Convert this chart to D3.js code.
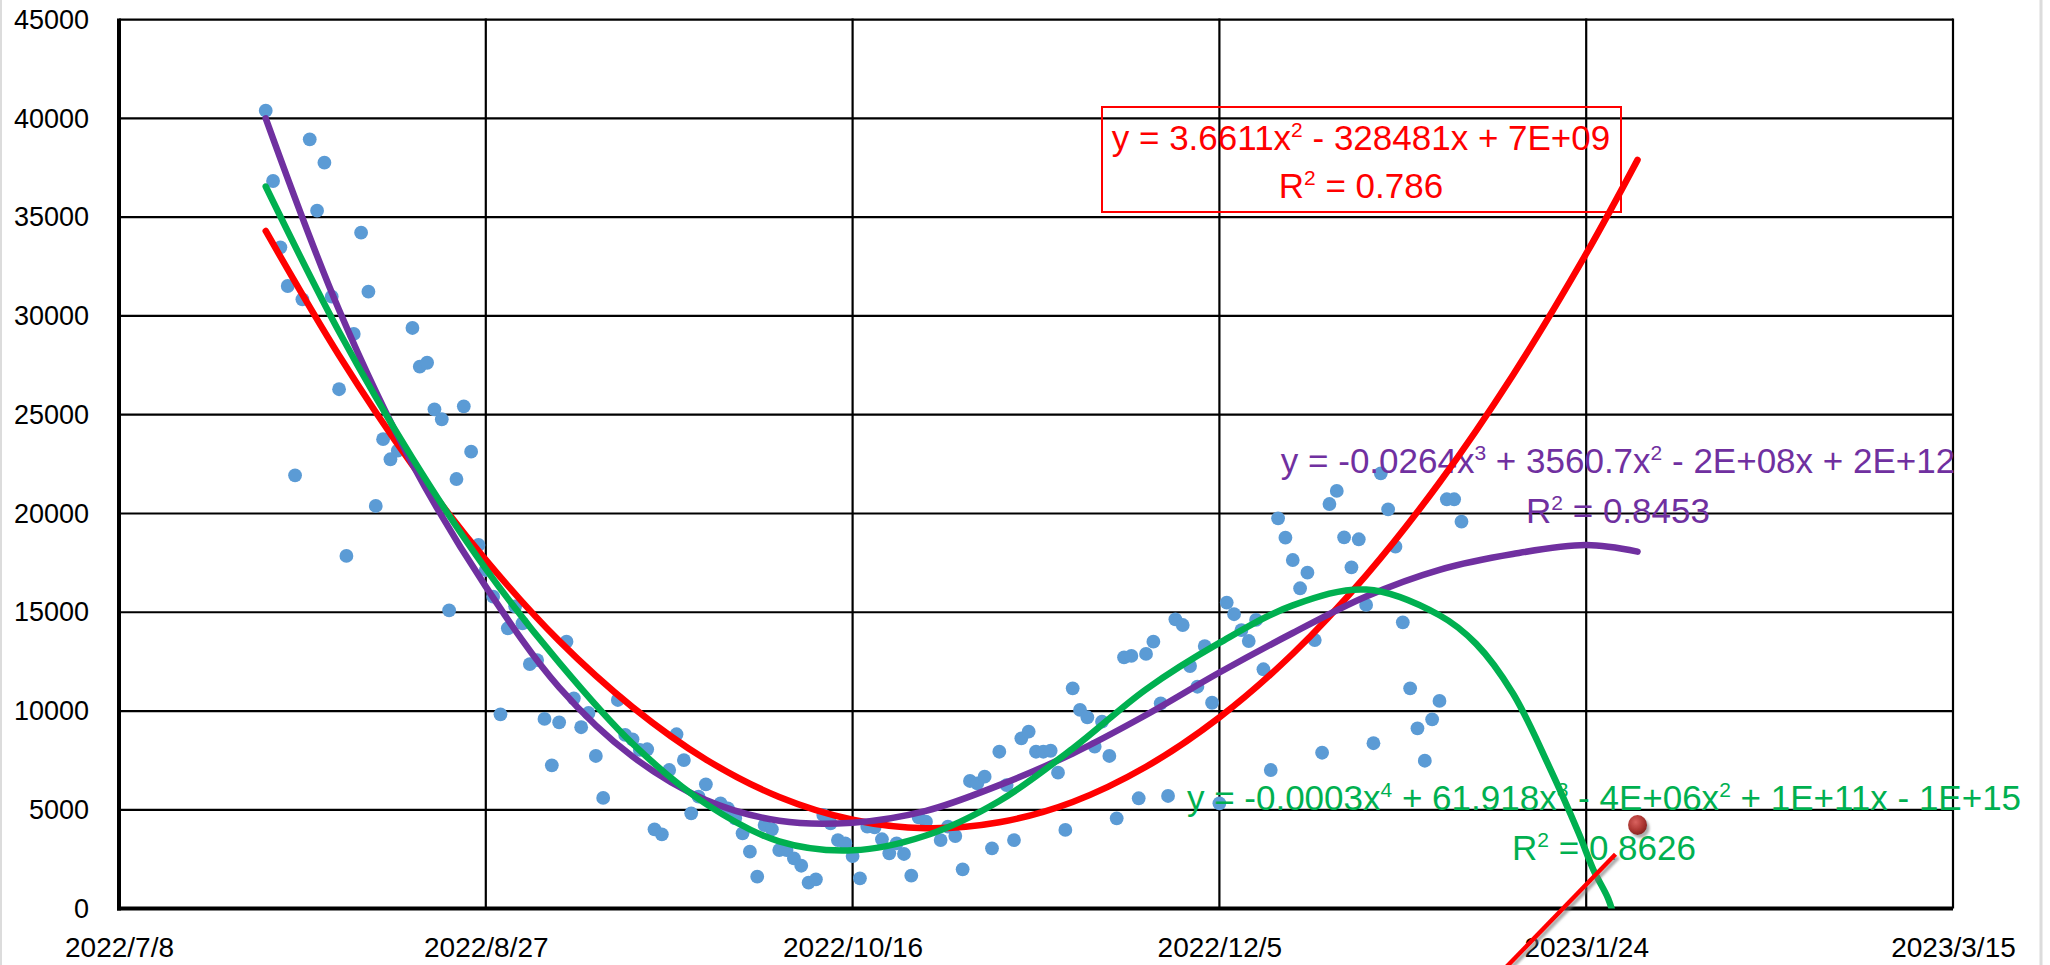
<!DOCTYPE html>
<html>
<head>
<meta charset="utf-8">
<script src="https://cdnjs.cloudflare.com/ajax/libs/d3/7.8.5/d3.min.js"></script>
<style>
body { margin: 0; background: #fff; }
svg { display: block; font-family: "Liberation Sans", Arial, sans-serif; }
text { white-space: pre; }
</style>
</head>
<body>
<svg id="chart" width="2050" height="965"></svg>
<script>
// axis ticks
const yTicks = [0, 5000, 10000, 15000, 20000, 25000, 30000, 35000, 40000, 45000];
const xTickLabels = ["2022/7/8", "2022/8/27", "2022/10/16", "2022/12/5", "2023/1/24", "2023/3/15"];

const obsDates = [
  "2022/7/28","2022/7/29","2022/7/30","2022/7/31","2022/8/1","2022/8/2","2022/8/3","2022/8/4","2022/8/5","2022/8/6",
  "2022/8/7","2022/8/8","2022/8/9","2022/8/10","2022/8/11","2022/8/12","2022/8/13","2022/8/14","2022/8/15","2022/8/17",
  "2022/8/18","2022/8/19","2022/8/20","2022/8/21","2022/8/22","2022/8/23","2022/8/24","2022/8/25","2022/8/26","2022/8/27",
  "2022/8/28","2022/8/29","2022/8/30","2022/8/31",
  "2022/9/1","2022/9/2","2022/9/3","2022/9/4","2022/9/5","2022/9/6","2022/9/7","2022/9/8","2022/9/9","2022/9/10",
  "2022/9/11","2022/9/12","2022/9/14","2022/9/15","2022/9/16","2022/9/17","2022/9/18","2022/9/19","2022/9/20","2022/9/21",
  "2022/9/22","2022/9/23","2022/9/24","2022/9/25","2022/9/26","2022/9/28","2022/9/29","2022/9/30",
  "2022/10/1","2022/10/2","2022/10/3","2022/10/4","2022/10/5","2022/10/6","2022/10/7","2022/10/8","2022/10/9","2022/10/10",
  "2022/10/11","2022/10/12","2022/10/13","2022/10/14","2022/10/15","2022/10/16","2022/10/17","2022/10/18","2022/10/19","2022/10/20",
  "2022/10/21","2022/10/22","2022/10/23","2022/10/24","2022/10/25","2022/10/26","2022/10/28","2022/10/29","2022/10/30","2022/10/31",
  "2022/11/1","2022/11/2","2022/11/3","2022/11/4","2022/11/5","2022/11/6","2022/11/7","2022/11/8","2022/11/9","2022/11/10",
  "2022/11/11","2022/11/12","2022/11/13","2022/11/14","2022/11/15","2022/11/16","2022/11/17","2022/11/18","2022/11/19","2022/11/20",
  "2022/11/21","2022/11/22","2022/11/23","2022/11/24","2022/11/25","2022/11/26","2022/11/27","2022/11/28","2022/11/29","2022/11/30",
  "2022/12/1","2022/12/2","2022/12/3","2022/12/4","2022/12/5","2022/12/6","2022/12/7","2022/12/8","2022/12/9","2022/12/10",
  "2022/12/11","2022/12/12","2022/12/13","2022/12/14","2022/12/15","2022/12/16","2022/12/17","2022/12/18","2022/12/19","2022/12/20",
  "2022/12/21","2022/12/22","2022/12/23","2022/12/24","2022/12/25","2022/12/26","2022/12/27","2022/12/28","2022/12/29","2022/12/30",
  "2022/12/31",
  "2023/1/1","2023/1/2","2023/1/3","2023/1/4","2023/1/5","2023/1/6","2023/1/7"
];
const obsValues = [
  40390,36830,33475,31515,21930,30840,38940,35330,37760,30975,
  26290,17850,29090,34215,31230,20380,23760,22745,23180,29390,
  27430,27630,25275,24770,15100,21745,25425,23130,18405,17140,
  15790,9835,14190,15300,
  14440,12380,12580,9600,7250,9430,13510,10645,9180,9900,
  7725,5600,10560,8790,8570,8030,8065,4015,3760,7015,
  8825,7520,4825,5665,6290,5330,5075,4570,
  3810,2880,1615,4230,4015,2965,2965,2545,2170,1310,
  1480,4740,4320,3470,3305,2660,1535,4145,4115,3510,
  2800,3305,2765,1665,4620,4400,3470,4145,3675,1990,
  6460,6340,6680,3050,7940,6255,3470,8620,8955,7940,
  7940,7990,6880,3980,11150,10055,9685,8195,9460,7725,
  4570,12720,12790,5585,12890,13510,10390,5700,14645,14355,
  12280,11230,13290,10420,5330,15490,14900,14100,13545,14610,
  12115,7015,19755,18775,17645,16215,17005,13595,7890,20480,
  21140,18795,17275,18695,15370,8370,22035,20210,18320,14490,
  11150,
  9125,7485,9580,10510,20720,20720,19585
];

// trendlines as drawn
const trendDates = ["2022/7/28","2022/8/7","2022/8/17","2022/8/27","2022/9/6","2022/9/16","2022/9/26","2022/10/6","2022/10/16","2022/10/26",
  "2022/11/5","2022/11/15","2022/11/25","2022/12/5","2022/12/15","2022/12/25","2023/1/4","2023/1/14","2023/1/24","2023/1/31"];
const poly2Values = [34300,28000,22450,17650,13550,10200,7550,5650,4500,4070,
  4370,5400,7180,9680,12900,16870,21570,27000,33150,37900];
const poly3Values = [40000,30300,22500,16300,11200,7700,5500,4450,4350,4950,
  6250,7850,9800,11950,13950,15800,17150,17950,18400,18070];
const poly4Dates = ["2022/7/28","2022/8/7","2022/8/17","2022/8/27","2022/9/6","2022/9/16","2022/9/26","2022/10/6","2022/10/16","2022/10/26",
  "2022/11/5","2022/11/15","2022/11/25","2022/12/5","2022/12/15","2022/12/25","2023/1/4","2023/1/9","2023/1/14","2023/1/19",
  "2023/1/23","2023/1/25","2023/1/27","2023/1/28"];
const poly4Values = [36550,29200,22800,17200,12450,8350,5300,3400,2950,3700,
  5450,8100,11100,13450,15350,16150,14850,13400,10900,7150,
  3800,1950,500,-700];

// extra point and the short red line below it
const forecastDates = ["2023/1/31"];
const forecastValues = [4230];
const segDates = ["2023/1/10", "2023/1/28"];
const segValues = [-4150, 2750];

const redEquation = ["y = 3.6611x", "2", " - 328481x + 7E+09"];
const redR2 = ["R", "2", " = 0.786"];
const purpleEquation = ["y = -0.0264x", "3", " + 3560.7x", "2", " - 2E+08x + 2E+12"];
const purpleR2 = ["R", "2", " = 0.8453"];
const greenEquation = ["y = -0.0003x", "4", " + 61.918x", "3", " - 4E+06x", "2", " + 1E+11x - 1E+15"];
const greenR2 = ["R", "2", " = 0.8626"];

const svg = d3.select("#chart");
const parse = d3.timeParse("%Y/%m/%d");
const fmt = d3.timeFormat("%Y/%-m/%-d");

const plotL = 119, plotR = 1953, plotT = 19.6, plotB = 908.6;

const x = d3.scaleTime()
  .domain([parse(xTickLabels[0]), parse(xTickLabels[xTickLabels.length - 1])])
  .range([plotL, plotR]);
const y = d3.scaleLinear().domain([0, 45000]).range([plotB, plotT]);

const defs = svg.append("defs");
defs.append("clipPath").attr("id", "plotclip")
  .append("rect").attr("x", plotL).attr("y", plotT)
  .attr("width", plotR - plotL).attr("height", plotB - plotT);
const shadow = defs.append("filter").attr("id", "shadow")
  .attr("x", "-50%").attr("y", "-50%").attr("width", "200%").attr("height", "200%");
shadow.append("feDropShadow").attr("dx", 2.5).attr("dy", 3).attr("stdDeviation", 1.2)
  .attr("flood-color", "#777").attr("flood-opacity", 0.6);
const grad = defs.append("radialGradient").attr("id", "dotgrad")
  .attr("cx", "40%").attr("cy", "35%").attr("r", "65%");
grad.append("stop").attr("offset", "0%").attr("stop-color", "#d9625f");
grad.append("stop").attr("offset", "60%").attr("stop-color", "#b03a36");
grad.append("stop").attr("offset", "100%").attr("stop-color", "#8a2422");

// faint chart-area border
svg.append("line").attr("x1", 1).attr("x2", 1).attr("y1", 0).attr("y2", 965)
  .attr("stroke", "#dcdcdc").attr("stroke-width", 2);
svg.append("line").attr("x1", 2041).attr("x2", 2041).attr("y1", 0).attr("y2", 965)
  .attr("stroke", "#dcdcdc").attr("stroke-width", 3);

// grid
svg.append("g").selectAll("line")
  .data(yTicks.filter(d => d > 0))
  .join("line")
  .attr("x1", plotL).attr("x2", plotR)
  .attr("y1", d => y(d)).attr("y2", d => y(d))
  .attr("stroke", "#000").attr("stroke-width", 2.2);
svg.append("g").selectAll("line")
  .data(xTickLabels.slice(1).map(parse))
  .join("line")
  .attr("x1", d => x(d)).attr("x2", d => x(d))
  .attr("y1", plotT - 1).attr("y2", plotB)
  .attr("stroke", "#000").attr("stroke-width", 2.2);

// axes
svg.append("g")
  .attr("transform", "translate(" + plotL + ",0)")
  .call(d3.axisLeft(y).tickValues(yTicks).tickFormat(d3.format("d")).tickSize(0).tickPadding(30))
  .call(g => g.select(".domain").remove())
  .attr("font-family", null).attr("font-size", null)
  .selectAll("text").attr("font-size", 27).attr("fill", "#000");

svg.append("g")
  .attr("transform", "translate(0," + plotB + ")")
  .call(d3.axisBottom(x).tickValues(xTickLabels.map(parse)).tickFormat(fmt).tickSize(0).tickPadding(29))
  .call(g => g.select(".domain").remove())
  .attr("font-family", null).attr("font-size", null)
  .selectAll("text").attr("font-size", 28).attr("fill", "#000");

svg.append("line").attr("x1", plotL).attr("x2", plotL).attr("y1", plotT - 1).attr("y2", plotB + 2)
  .attr("stroke", "#000").attr("stroke-width", 4);
svg.append("line").attr("x1", plotL - 2).attr("x2", plotR).attr("y1", plotB).attr("y2", plotB)
  .attr("stroke", "#000").attr("stroke-width", 4);

// scatter
const obs = obsDates.map((d, i) => ({ date: parse(d), value: obsValues[i] }));
svg.append("g").selectAll("circle")
  .data(obs)
  .join("circle")
  .attr("cx", d => x(d.date))
  .attr("cy", d => y(d.value))
  .attr("r", 6.9)
  .attr("fill", "#5b9bd5");

// equation labels
function eqLabel(parts, cx, baseY, color) {
  const t = svg.append("text")
    .attr("x", cx).attr("y", baseY)
    .attr("text-anchor", "middle")
    .attr("font-size", 35)
    .attr("fill", color);
  let raised = false;
  parts.forEach((p, i) => {
    const sup = i % 2 === 1;
    const ts = t.append("tspan").text(p);
    if (sup) {
      ts.attr("font-size", 21).attr("dy", -13);
      raised = true;
    } else if (raised) {
      ts.attr("dy", 13);
      raised = false;
    }
  });
}

svg.append("rect").attr("x", 1102).attr("y", 107).attr("width", 519).attr("height", 105)
  .attr("fill", "none").attr("stroke", "#ff0000").attr("stroke-width", 2);
eqLabel(redEquation, 1361, 150, "#ff0000");
eqLabel(redR2, 1361, 198, "#ff0000");
eqLabel(purpleEquation, 1618, 473, "#7030a0");
eqLabel(purpleR2, 1618, 523, "#7030a0");
eqLabel(greenEquation, 1604, 810, "#00b050");
eqLabel(greenR2, 1604, 860, "#00b050");

// trendlines
const line = d3.line()
  .x(d => x(d.date))
  .y(d => y(d.value))
  .curve(d3.curveCatmullRom.alpha(0.5));

function trend(dates, values, color) {
  const pts = dates.map((d, i) => ({ date: parse(d), value: values[i] }));
  svg.append("path")
    .attr("clip-path", "url(#plotclip)")
    .attr("d", line(pts))
    .attr("fill", "none")
    .attr("stroke", color)
    .attr("stroke-width", 6.5)
    .attr("stroke-linecap", "round");
}
trend(trendDates, poly2Values, "#ff0000");
trend(trendDates, poly3Values, "#7030a0");
trend(poly4Dates, poly4Values, "#00b050");

// short red line and extra point
const seg = segDates.map((d, i) => ({ date: parse(d), value: segValues[i] }));
svg.append("path")
  .attr("d", d3.line().x(d => x(d.date)).y(d => y(d.value))(seg))
  .attr("fill", "none")
  .attr("stroke", "#ff0000")
  .attr("stroke-width", 4.5)
  .attr("filter", "url(#shadow)");

svg.append("g").selectAll("ellipse")
  .data(forecastDates.map((d, i) => ({ date: parse(d), value: forecastValues[i] })))
  .join("ellipse")
  .attr("cx", d => x(d.date))
  .attr("cy", d => y(d.value))
  .attr("rx", 9.5).attr("ry", 10)
  .attr("fill", "url(#dotgrad)")
  .attr("filter", "url(#shadow)");
</script>
</body>
</html>
